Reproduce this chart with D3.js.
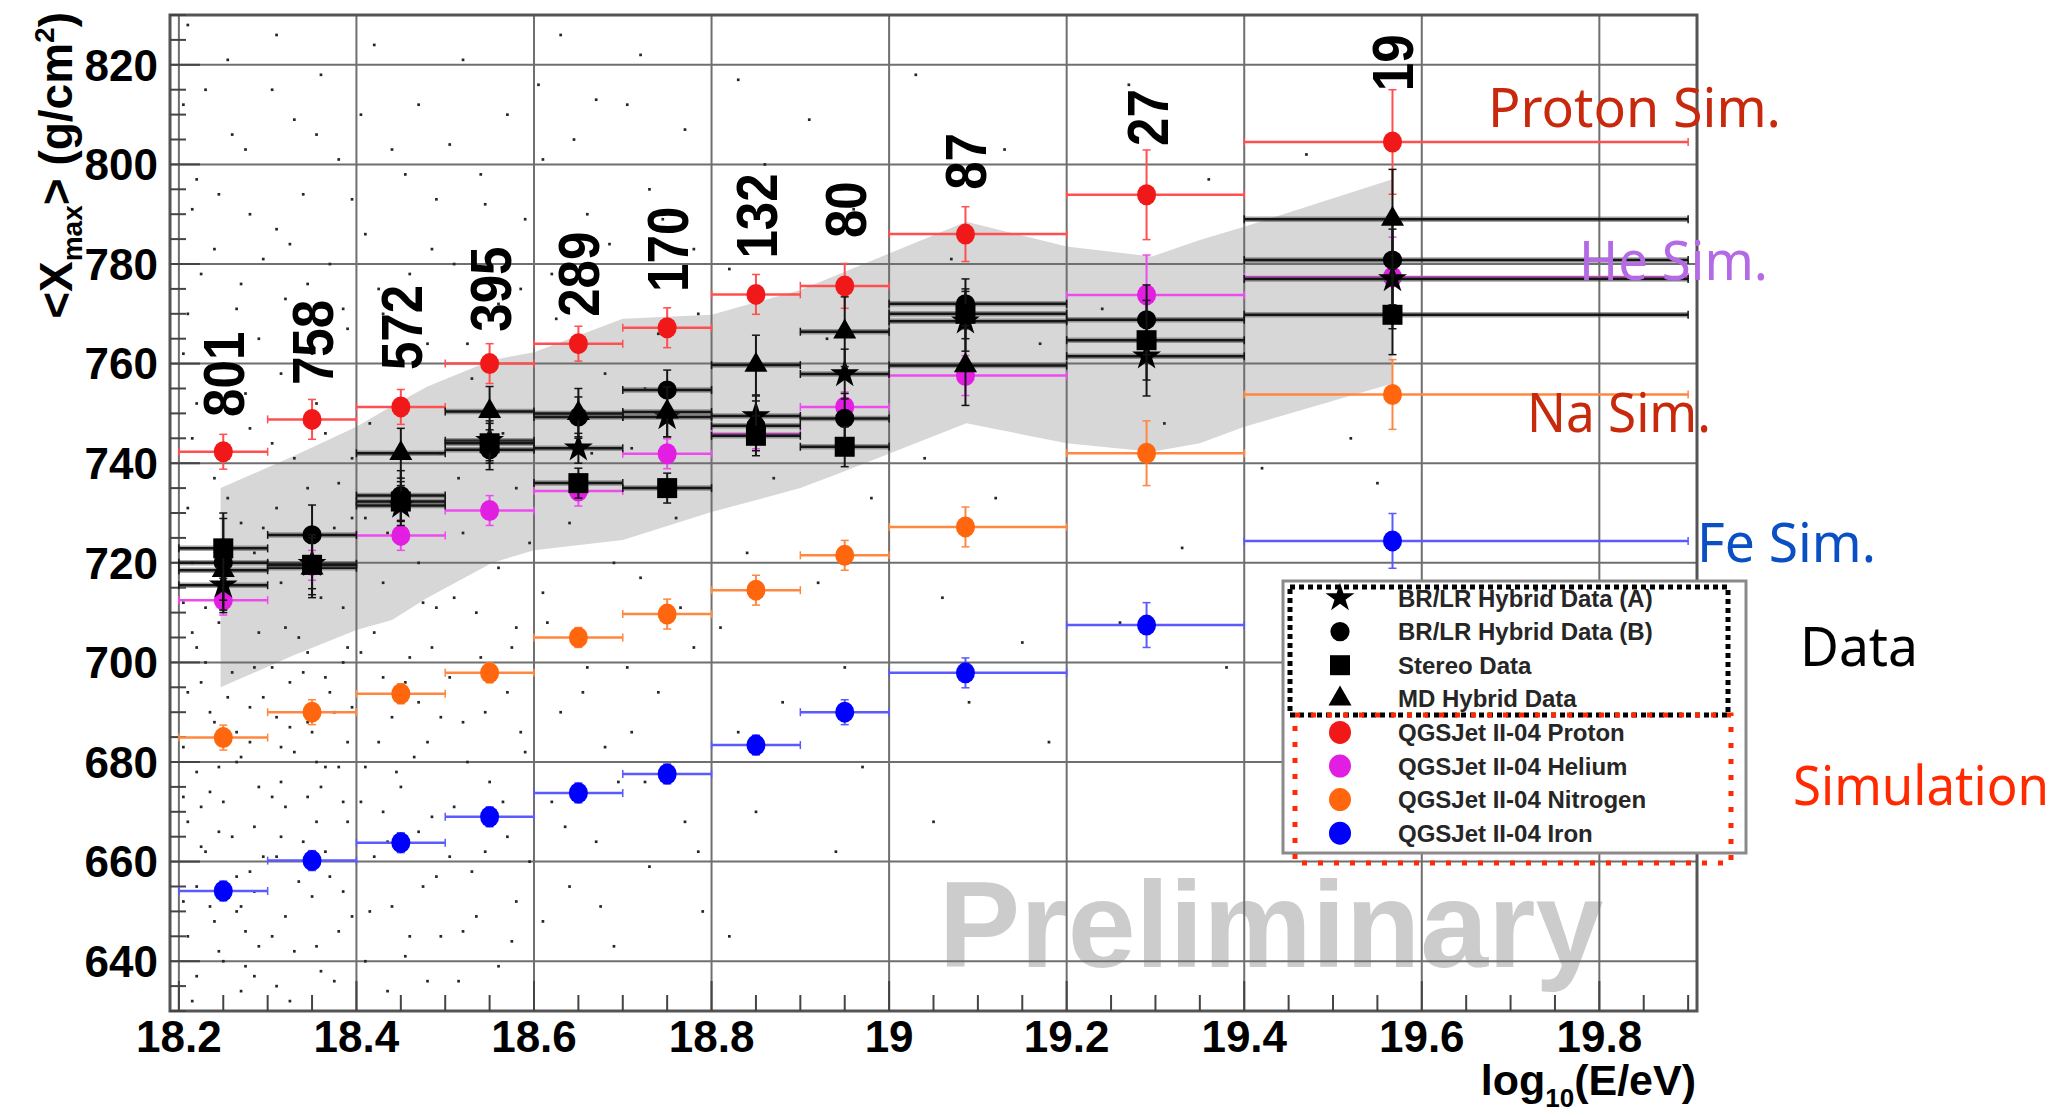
<!DOCTYPE html>
<html>
<head>
<meta charset="utf-8">
<script src="https://cdn.jsdelivr.net/npm/d3@7/dist/d3.min.js"></script>
<style>
  body { margin: 0; background: #fff; }
</style>
</head>
<body>
<div id="container"></div>
<script>
// Energy bins (log10 E/eV)
const binCenter = [18.25, 18.35, 18.45, 18.55, 18.65, 18.75, 18.85, 18.95, 19.086, 19.29, 19.567];
const binLo = [18.2, 18.3, 18.4, 18.5, 18.6, 18.7, 18.8, 18.9, 19.0, 19.2, 19.4];
const binHi = [18.3, 18.4, 18.5, 18.6, 18.7, 18.8, 18.9, 19.0, 19.2, 19.4, 19.9];

// Number of events per bin (labels above the points)
const eventCounts = ["801", "758", "572", "395", "289", "170", "132", "80", "87", "27", "19"];
const countLabelXmax = [749.3, 755.7, 758.7, 766.4, 769.4, 774.4, 781.1, 785.2, 794.9, 803.7, 814.7];

// QGSJet II-04 simulations
const protonXmax = [742.3, 748.8, 751.3, 760.0, 764.0, 767.2, 773.9, 775.6, 786.0, 793.9, 804.5];
const protonErr = [3.5, 4, 3.5, 4, 3.5, 4, 4, 4.5, 5.5, 9, 10.5];
const heliumXmax = [712.5, 719.5, 725.5, 730.5, 734.4, 741.9, 745.9, 751.3, 757.6, 773.8, 777.4];
const heliumErr = [3, 3, 3, 3, 3, 3, 3, 3, 4, 8, 8];
const nitrogenXmax = [684.9, 690.0, 693.7, 697.9, 705.0, 709.7, 714.5, 721.5, 727.2, 742.0, 753.8];
const nitrogenErr = [2.5, 2.5, 2, 2, 2, 3, 3, 3, 4, 6.5, 7];
const ironXmax = [654.1, 660.2, 663.8, 669.0, 673.8, 677.6, 683.4, 690.0, 697.9, 707.5, 724.4];
const ironErr = [2, 2, 2, 2, 2, 2, 2, 2.5, 3, 4.5, 5.5];

// Measured data
const hybridA = [715.5, 719.8, 731.5, 744.5, 743.0, 749.3, 749.5, 757.9, 768.5, 761.5, 777.0];
const hybridAErr = [5, 5, 4, 4, 3, 4, 4, 5, 6, 8, 10];
const hybridB = [720.0, 725.6, 733.5, 742.7, 749.3, 754.7, 747.5, 749.0, 772.0, 768.8, 780.8];
const hybridBErr = [10, 6, 5, 4, 4, 4, 5, 5, 5, 7, 9];
const stereo = [722.9, 719.6, 732.3, 744.0, 736.0, 735.0, 745.5, 743.3, 770.0, 764.7, 769.8];
const stereoErr = [6, 6, 4, 4, 3, 3, 4, 4, 5, 8, 8];
const mdHybrid = [718.5, 719.0, 742.0, 750.4, 750.0, 750.3, 759.7, 766.4, 759.6, null, 789.0];
const mdHybridErr = [6, 6, 5, 5, 5, 5, 6, 7, 8, null, 10];

// Systematic band
const bandEnergy = [18.247, 18.33, 18.40, 18.44, 18.48, 18.553, 18.60, 18.70, 18.80, 18.90, 18.944, 19.087, 19.20, 19.296, 19.35, 19.40, 19.567];
const bandUpper = [735, 741.5, 747.3, 751.5, 755.4, 760.7, 762.3, 769, 769.8, 774.8, 778, 788.5, 783.5, 781.5, 784.8, 787.5, 797];
const bandLower = [695, 701.5, 706.5, 708.5, 713, 720, 722.5, 724.6, 730.2, 735, 738, 748, 744, 742.3, 744, 747.3, 756];

// Individual events
const events = [
  [18.21,828],[18.23,815],[18.26,806],[18.22,797],[18.28,790],[18.24,783],[18.27,776],[18.21,770],[18.29,765],[18.25,760],
  [18.22,752],[18.28,747],[18.24,737],[18.21,731],[18.27,728],[18.23,711],[18.29,706],[18.22,703],[18.26,698],[18.21,694],
  [18.28,691],[18.24,688],[18.27,681],[18.22,678],[18.29,675],[18.25,672],[18.21,668],[18.26,665],[18.23,662],[18.28,658],
  [18.22,655],[18.27,651],[18.24,648],[18.21,645],[18.29,643],[18.25,640],[18.22,637],[18.27,634],[18.23,700],[18.28,684],
  [18.215,720],[18.285,722],[18.255,693],[18.235,674],[18.265,657],[18.245,666],
  [18.205,812],[18.255,821],[18.275,803],[18.215,791],[18.245,794],[18.295,781],[18.225,778],[18.265,771],[18.205,762],[18.235,757],
  [18.275,754],[18.215,745],[18.255,733],[18.295,727],[18.205,712],[18.245,708],[18.285,699],[18.225,696],[18.265,686],[18.205,683],
  [18.245,679],[18.285,667],[18.225,663],[18.265,650],[18.205,652],[18.245,642],[18.285,637],[18.215,632],[18.275,646],[18.235,690],
  [18.295,661],[18.215,706],[18.255,714],[18.295,693],[18.225,671],[18.265,680],[18.205,673],[18.285,654],[18.235,651],[18.275,639],
  [18.31,826],[18.36,818],[18.33,809],[18.38,801],[18.34,794],[18.31,787],[18.37,780],[18.32,773],[18.39,767],[18.35,762],
  [18.33,741],[18.38,736],[18.31,731],[18.36,713],[18.32,707],[18.39,703],[18.34,698],[18.37,694],[18.31,689],[18.35,686],
  [18.33,682],[18.38,679],[18.36,675],[18.32,671],[18.39,668],[18.34,664],[18.31,661],[18.37,657],[18.35,653],[18.32,649],
  [18.38,646],[18.33,642],[18.36,638],[18.31,635],[18.39,684],[18.345,702],[18.375,690],[18.315,676],[18.355,668],[18.385,654],
  [18.325,696],[18.365,746],[18.395,729],
  [18.305,815],[18.355,806],[18.395,793],[18.325,784],[18.345,776],[18.385,771],[18.315,758],[18.355,752],[18.395,741],[18.305,744],
  [18.345,735],[18.375,727],[18.315,716],[18.385,711],[18.335,705],[18.305,699],[18.365,697],[18.395,691],[18.325,687],[18.355,680],
  [18.305,673],[18.345,673],[18.385,672],[18.315,665],[18.365,662],[18.335,656],[18.395,649],[18.305,645],[18.355,643],[18.375,636],
  [18.325,632],[18.345,688],[18.385,700],[18.315,683],[18.365,679],
  [18.42,824],[18.47,812],[18.44,803],[18.49,793],[18.41,786],[18.46,778],[18.43,770],[18.48,764],[18.45,737],[18.41,729],
  [18.47,720],[18.43,716],[18.49,711],[18.42,706],[18.46,701],[18.44,689],[18.48,684],[18.41,679],[18.45,675],[18.43,670],
  [18.47,666],[18.42,661],[18.49,657],[18.44,651],[18.46,645],[18.41,640],[18.48,636],[18.43,697],[18.47,692],
  [18.405,810],[18.455,798],[18.485,783],[18.425,775],[18.465,760],[18.415,748],[18.495,742],[18.435,726],[18.475,712],[18.405,702],
  [18.455,696],[18.495,689],[18.425,684],[18.465,681],[18.405,672],[18.485,669],[18.435,664],[18.475,655],[18.415,650],[18.455,641],
  [18.495,645],[18.435,634],[18.445,678],[18.485,703],
  [18.52,821],[18.57,810],[18.54,798],[18.59,789],[18.51,780],[18.56,772],[18.53,757],[18.58,735],[18.52,726],[18.56,719],
  [18.51,713],[18.58,707],[18.54,701],[18.57,694],[18.52,688],[18.59,682],[18.55,676],[18.51,671],[18.57,665],[18.53,658],
  [18.58,652],[18.52,646],[18.56,639],
  [18.505,804],[18.545,792],[18.585,775],[18.525,764],[18.565,746],[18.515,737],[18.595,724],[18.535,710],[18.575,703],[18.505,697],
  [18.545,690],[18.585,686],[18.525,680],[18.565,672],[18.505,661],[18.545,662],[18.595,660],[18.535,649],[18.575,644],[18.515,636],
  [18.63,826],[18.67,813],[18.61,801],[18.66,790],[18.62,778],[18.68,758],[18.64,728],[18.69,720],[18.61,714],[18.66,699],
  [18.63,690],[18.68,683],[18.62,672],[18.67,664],[18.64,655],[18.61,648],[18.69,643],
  [18.605,816],[18.645,805],[18.685,784],[18.625,769],[18.665,742],[18.615,708],[18.655,694],[18.695,676],[18.635,667],[18.675,651],
  [18.72,822],[18.77,807],[18.73,795],[18.78,783],[18.74,766],[18.71,743],[18.76,729],[18.72,717],[18.78,703],[18.74,694],
  [18.71,686],[18.77,668],[18.73,659],[18.79,650],
  [18.705,812],[18.745,789],[18.785,770],[18.725,755],[18.765,711],[18.705,699],[18.745,679],[18.785,662],[18.725,676],
  [18.83,817],[18.91,809],[18.86,800],[18.96,791],[18.82,779],[18.93,765],[18.87,737],[18.98,733],[18.84,722],[18.92,716],
  [18.81,707],[18.95,699],[18.88,692],[18.83,686],[18.97,679],[18.85,670],[18.94,662],[18.82,645],
  [19.03,818],[19.13,803],[19.07,781],[19.17,764],[19.04,741],[19.12,733],[19.06,713],[19.15,704],[19.09,692],[19.18,684],
  [19.05,668],
  [19.27,816],[19.36,797],[19.24,771],[19.31,748],[19.42,739],[19.47,802],[19.52,745],[19.55,736],[19.33,723],[19.26,708],
  [19.38,699]
];

// Axis ticks
const xTickValues = [18.2, 18.4, 18.6, 18.8, 19.0, 19.2, 19.4, 19.6, 19.8];
const xTickLabels = ["18.2", "18.4", "18.6", "18.8", "19", "19.2", "19.4", "19.6", "19.8"];
const yTickValues = [640, 660, 680, 700, 720, 740, 760, 780, 800, 820];

const width = 2072;
const height = 1116;
const font = "'Liberation Sans', Arial, Helvetica, sans-serif";
const noteFont = "'Noto Sans', 'Open Sans', sans-serif";

const x = d3.scaleLinear().domain([18.19, 19.91]).range([170, 1697]);
const y = d3.scaleLinear().domain([630, 830]).range([1011, 15]);

const svg = d3.select("#container").append("svg")
  .attr("width", width)
  .attr("height", height)
  .style("background", "#fff");

svg.append("rect").attr("width", width).attr("height", height).attr("fill", "#fff");

// gray band
const band = bandEnergy.map((e, i) => ({ e: e, lo: bandLower[i], hi: bandUpper[i] }));
svg.append("path")
  .datum(band)
  .attr("fill", "#d7d7d7")
  .attr("d", d3.area().x(d => x(d.e)).y0(d => y(d.lo)).y1(d => y(d.hi)));

// watermark
svg.append("text")
  .attr("x", x(19.056))
  .attr("y", y(638.8))
  .attr("font-family", font)
  .attr("font-weight", "bold")
  .attr("font-size", 122)
  .attr("fill", "#cccccc")
  .text("Preliminary");

// grid
const grid = svg.append("g").attr("stroke", "#6f6f6f").attr("stroke-width", 2);
grid.selectAll("line.gx").data(xTickValues).join("line")
  .attr("x1", d => x(d)).attr("x2", d => x(d))
  .attr("y1", y(830)).attr("y2", y(630));
grid.selectAll("line.gy").data(yTickValues).join("line")
  .attr("x1", x(18.19)).attr("x2", x(19.91))
  .attr("y1", d => y(d)).attr("y2", d => y(d));

// events
svg.append("g").attr("fill", "#262626")
  .selectAll("rect").data(events).join("rect")
  .attr("x", d => x(d[0]) - 1.3)
  .attr("y", d => y(d[1]) - 1.3)
  .attr("width", 2.7).attr("height", 2.7);

// frame
svg.append("rect")
  .attr("x", x(18.19)).attr("y", y(830))
  .attr("width", x(19.91) - x(18.19)).attr("height", y(630) - y(830))
  .attr("fill", "none").attr("stroke", "#555").attr("stroke-width", 3);

// ticks (drawn inward like ROOT)
const ticks = svg.append("g").attr("stroke", "#444").attr("stroke-width", 2);
const xMinor = d3.range(18.2, 19.91, 0.05);
ticks.selectAll("line.xt").data(xMinor).join("line")
  .attr("x1", d => x(d)).attr("x2", d => x(d))
  .attr("y1", y(630))
  .attr("y2", d => y(630) - (Math.abs(d * 5 - Math.round(d * 5)) < 1e-6 ? 30 : 16));
const yMinor = d3.range(630, 831, 5);
ticks.selectAll("line.yt").data(yMinor).join("line")
  .attr("x1", x(18.19))
  .attr("x2", d => x(18.19) + (d % 20 === 0 ? 30 : 16))
  .attr("y1", d => y(d)).attr("y2", d => y(d));

// tick labels
svg.append("g").selectAll("text").data(xTickValues).join("text")
  .attr("x", d => x(d))
  .attr("y", y(630) + 41)
  .attr("text-anchor", "middle")
  .attr("font-family", font).attr("font-weight", "bold").attr("font-size", 44)
  .text((d, i) => xTickLabels[i]);
svg.append("g").selectAll("text").data(yTickValues).join("text")
  .attr("x", 158)
  .attr("y", d => y(d))
  .attr("dy", "0.36em")
  .attr("text-anchor", "end")
  .attr("font-family", font).attr("font-weight", "bold").attr("font-size", 44)
  .text(d => d);

// axis titles
const yTitle = svg.append("text")
  .attr("transform", "translate(72,12) rotate(-90)")
  .attr("text-anchor", "end")
  .attr("font-family", font).attr("font-weight", "bold").attr("font-size", 46);
yTitle.append("tspan").text("<X");
yTitle.append("tspan").attr("font-size", 28).attr("dy", 10).text("max");
yTitle.append("tspan").attr("dy", -10).text("> (g/cm");
yTitle.append("tspan").attr("font-size", 28).attr("dy", -18).text("2");
yTitle.append("tspan").attr("dy", 18).text(")");

const xTitle = svg.append("text")
  .attr("x", 1696).attr("y", 1095)
  .attr("text-anchor", "end")
  .attr("font-family", font).attr("font-weight", "bold").attr("font-size", 43);
xTitle.append("tspan").text("log");
xTitle.append("tspan").attr("font-size", 26).attr("dy", 12).text("10");
xTitle.append("tspan").attr("dy", -12).text("(E/eV)");

// error bars helper
function errorBars(g, vals, errs, color, hWidth, vWidth, halo) {
  const pts = vals.map((v, i) => ({ v: v, e: errs[i], i: i })).filter(d => d.v !== null);
  if (halo) {
    g.selectAll("line.halo").data(pts).join("line").attr("class", "halo")
      .attr("x1", d => x(binLo[d.i])).attr("x2", d => x(binHi[d.i]))
      .attr("y1", d => y(d.v)).attr("y2", d => y(d.v))
      .attr("stroke", halo).attr("stroke-width", hWidth + 3);
  }
  g.selectAll("line.h").data(pts).join("line").attr("class", "h")
    .attr("x1", d => x(binLo[d.i])).attr("x2", d => x(binHi[d.i]))
    .attr("y1", d => y(d.v)).attr("y2", d => y(d.v))
    .attr("stroke", color).attr("stroke-width", hWidth);
  g.selectAll("line.v").data(pts).join("line").attr("class", "v")
    .attr("x1", d => x(binCenter[d.i])).attr("x2", d => x(binCenter[d.i]))
    .attr("y1", d => y(d.v - d.e)).attr("y2", d => y(d.v + d.e))
    .attr("stroke", color).attr("stroke-width", vWidth);
  // small end caps
  const caps = [];
  pts.forEach(d => {
    caps.push([x(binLo[d.i]), y(d.v), 0]);
    caps.push([x(binHi[d.i]), y(d.v), 0]);
    caps.push([x(binCenter[d.i]), y(d.v - d.e), 1]);
    caps.push([x(binCenter[d.i]), y(d.v + d.e), 1]);
  });
  g.selectAll("line.c").data(caps).join("line").attr("class", "c")
    .attr("x1", d => d[2] ? d[0] - 4 : d[0]).attr("x2", d => d[2] ? d[0] + 4 : d[0])
    .attr("y1", d => d[2] ? d[1] : d[1] - 4).attr("y2", d => d[2] ? d[1] : d[1] + 4)
    .attr("stroke", color).attr("stroke-width", 1.5);
  return pts;
}

// simulation series
const simSeries = [
  { vals: protonXmax, errs: protonErr, color: "#f01818", line: "#ff5050", label: "QGSJet II-04 Proton" },
  { vals: heliumXmax, errs: heliumErr, color: "#e21ee2", line: "#ec4cec", label: "QGSJet II-04 Helium" },
  { vals: nitrogenXmax, errs: nitrogenErr, color: "#ff660d", line: "#ff8840", label: "QGSJet II-04 Nitrogen" },
  { vals: ironXmax, errs: ironErr, color: "#0000ff", line: "#5a5aff", label: "QGSJet II-04 Iron" }
];
simSeries.forEach(s => {
  const g = svg.append("g");
  const pts = errorBars(g, s.vals, s.errs, s.line, 2.5, 2, null);
  g.selectAll("ellipse").data(pts).join("ellipse")
    .attr("cx", d => x(binCenter[d.i])).attr("cy", d => y(d.v))
    .attr("rx", 9.5).attr("ry", 10.5)
    .attr("fill", s.color);
});

// data series
const dataSeries = [
  { vals: hybridA, errs: hybridAErr, sym: d3.symbolStar, size: 260, label: "BR/LR Hybrid Data (A)" },
  { vals: hybridB, errs: hybridBErr, sym: d3.symbolCircle, size: 290, label: "BR/LR Hybrid Data (B)" },
  { vals: stereo, errs: stereoErr, sym: d3.symbolSquare, size: 400, label: "Stereo Data" },
  { vals: mdHybrid, errs: mdHybridErr, sym: d3.symbolTriangle, size: 230, label: "MD Hybrid Data" }
];
[0, 1, 3, 2].forEach(k => {
  const s = dataSeries[k];
  const g = svg.append("g");
  const pts = errorBars(g, s.vals, s.errs, "#151515", 2.5, 2, "rgba(90,90,90,0.55)");
  g.selectAll("path").data(pts).join("path")
    .attr("transform", d => `translate(${x(binCenter[d.i])},${y(d.v)})`)
    .attr("d", d3.symbol().type(s.sym).size(s.size)())
    .attr("fill", "#000");
});

// event count labels
svg.append("g").selectAll("text").data(eventCounts).join("text")
  .attr("transform", (d, i) => `translate(${x(binCenter[i]) + 21},${y(countLabelXmax[i])}) rotate(-90) scale(0.88,1)`)
  .attr("font-family", font).attr("font-weight", "bold").attr("font-size", 58)
  .attr("fill", "#000")
  .text(d => d);

// legend
const legend = svg.append("g");
legend.append("rect")
  .attr("x", 1283).attr("y", 581).attr("width", 463).attr("height", 272)
  .attr("fill", "#fff").attr("stroke", "#8a8a8a").attr("stroke-width", 3);
const legendItems = dataSeries.map(s => ({ label: s.label, sym: s.sym, size: s.size, color: "#000" }))
  .concat(simSeries.map(s => ({ label: s.label, sym: null, color: s.color })));
legendItems.forEach((it, i) => {
  const ly = 598 + i * 33.6;
  if (it.sym) {
    legend.append("path")
      .attr("transform", `translate(1340,${ly})`)
      .attr("d", d3.symbol().type(it.sym).size(it.size)())
      .attr("fill", it.color);
  } else {
    legend.append("ellipse").attr("cx", 1340).attr("cy", ly)
      .attr("rx", 11).attr("ry", 11.5).attr("fill", it.color);
  }
  legend.append("text")
    .attr("x", 1398).attr("y", ly).attr("dy", "0.36em")
    .attr("font-family", font).attr("font-weight", "bold").attr("font-size", 24)
    .attr("fill", "#262626")
    .text(it.label);
});
legend.append("rect")
  .attr("x", 1290).attr("y", 587).attr("width", 438).attr("height", 128)
  .attr("fill", "none").attr("stroke", "#000").attr("stroke-width", 5)
  .attr("stroke-dasharray", "5,4");
legend.append("rect")
  .attr("x", 1295).attr("y", 715).attr("width", 436).attr("height", 148)
  .attr("fill", "none").attr("stroke", "#ff2a00").attr("stroke-width", 5)
  .attr("stroke-dasharray", "5,11");

// annotations on the right
const notes = [
  { text: "Proton Sim.", x: 1488, y: 127, w: 293, color: "#c8280c" },
  { text: "He Sim.", x: 1579, y: 280, w: 189, color: "#b46ae4" },
  { text: "Na Sim.", x: 1527, y: 432, w: 184, color: "#c8280c" },
  { text: "Fe Sim.", x: 1697, y: 562, w: 179, color: "#0a4fc4" },
  { text: "Data", x: 1800, y: 666, w: 118, color: "#000" },
  { text: "Simulation", x: 1793, y: 805, w: 256, color: "#ff2a00" }
];
svg.append("g").selectAll("text").data(notes).join("text")
  .attr("x", d => d.x).attr("y", d => d.y)
  .attr("font-family", noteFont).attr("font-size", 55)
  .attr("textLength", d => d.w).attr("lengthAdjust", "spacingAndGlyphs")
  .attr("fill", d => d.color)
  .text(d => d.text);
</script>
</body>
</html>
